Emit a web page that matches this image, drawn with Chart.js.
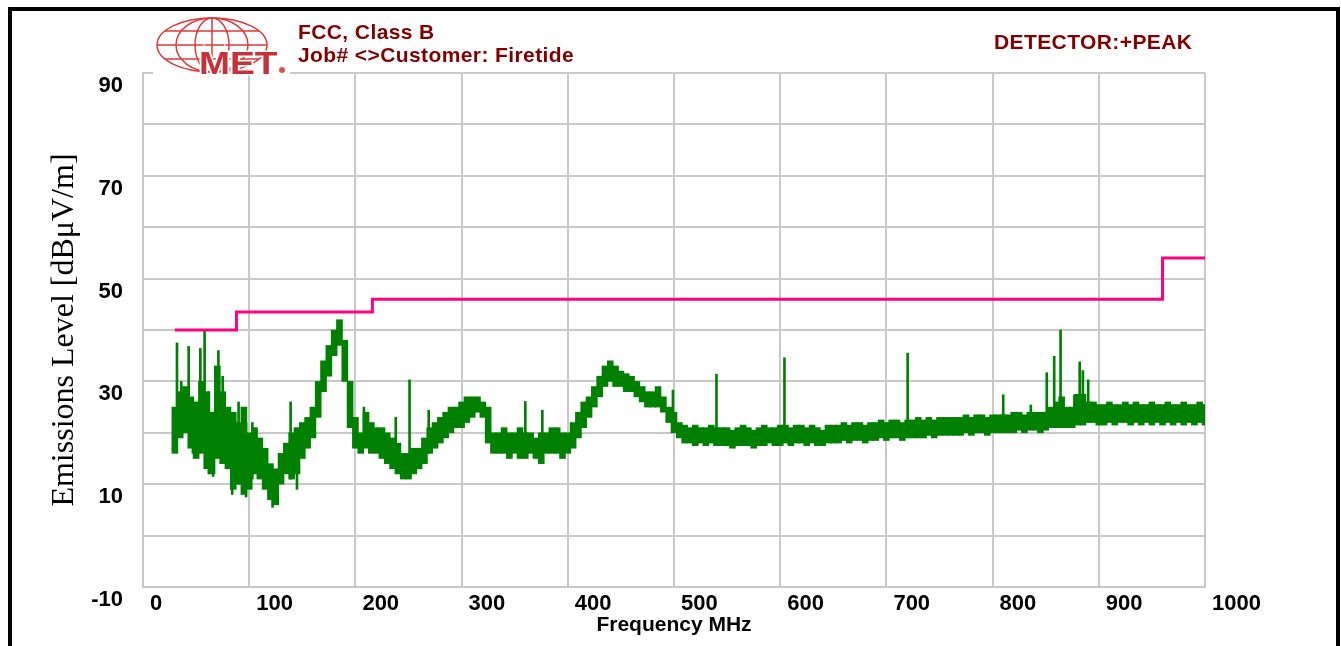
<!DOCTYPE html>
<html>
<head>
<meta charset="utf-8">
<script src="https://cdn.jsdelivr.net/npm/chart.js@4.4.1/dist/chart.umd.min.js"></script>
<style>
  html, body { margin: 0; padding: 0; background: #fff; }
  #wrap { position: relative; width: 1341px; height: 646px; overflow: hidden; background: #fff; }
  #frame { position: absolute; left: 8px; top: 7px; width: 1332px; height: 700px; border: 4px solid #000; box-sizing: border-box; }
  #plot { position: absolute; left: 0; top: 0; }
  .hdr { position: absolute; color: #800000; font: bold 21px "Liberation Sans", Arial, sans-serif; line-height: 21px; letter-spacing: 0.4px; white-space: nowrap; }
</style>
</head>
<body>
<div id="wrap">
  <div id="frame"></div>
  <canvas id="plot" width="1341" height="646"></canvas>
  <div class="hdr" style="left:298px;top:21px;">FCC, Class B</div>
  <div class="hdr" style="left:298px;top:44px;">Job# &lt;&gt;Customer: Firetide</div>
  <div class="hdr" style="left:994px;top:31px;">DETECTOR:+PEAK</div>
</div>
<script>
// FCC Class B limit (dBuV/m), stepped
const limitFreq = [30, 88, 216, 960, 1000];
const limitLevel = [40, 43.5, 46, 54, 54];

// peak trace, read as a min/max band per 5 MHz bin
const bandFreq = [
  30, 35, 40, 45, 50, 55, 60, 65, 70, 75,
  80, 85, 90, 95, 100, 105, 110, 115, 120, 125,
  130, 135, 140, 145, 150, 155, 160, 165, 170, 175,
  180, 185, 190, 195, 200, 205, 210, 215, 220, 225,
  230, 235, 240, 245, 250, 255, 260, 265, 270, 275,
  280, 285, 290, 295, 300, 305, 310, 315, 320, 325,
  330, 335, 340, 345, 350, 355, 360, 365, 370, 375,
  380, 385, 390, 395, 400, 405, 410, 415, 420, 425,
  430, 435, 440, 445, 450, 455, 460, 465, 470, 475,
  480, 485, 490, 495, 500, 505, 510, 515, 520, 525,
  530, 535, 540, 545, 550, 555, 560, 565, 570, 575,
  580, 585, 590, 595, 600, 605, 610, 615, 620, 625,
  630, 635, 640, 645, 650, 655, 660, 665, 670, 675,
  680, 685, 690, 695, 700, 705, 710, 715, 720, 725,
  730, 735, 740, 745, 750, 755, 760, 765, 770, 775,
  780, 785, 790, 795, 800, 805, 810, 815, 820, 825,
  830, 835, 840, 845, 850, 855, 860, 865, 870, 875,
  880, 885, 890, 895, 900, 905, 910, 915, 920, 925,
  930, 935, 940, 945, 950, 955, 960, 965, 970, 975,
  980, 985, 990, 995, 1000
];
const bandLow = [
  16, 19, 20, 17, 15, 16, 13, 12, 15, 14,
  13, 9, 10, 8, 9, 12, 11, 9, 7, 6,
  10, 12, 11, 12, 15, 17, 19, 23, 28, 31,
  35, 37, 30, 21, 17, 16, 17, 16, 16, 15,
  14, 13, 12, 11, 11, 12, 13, 14, 16, 17,
  18, 19, 20, 21, 21, 22, 23, 24, 23, 18,
  16, 16, 16, 15, 16, 15, 15, 16, 15, 14,
  16, 16, 16, 15, 16, 17, 19, 21, 23, 25,
  27, 29, 30, 29, 29, 28, 28, 27, 26, 25,
  25, 25, 24, 22, 20, 19, 18, 18, 17.5, 18,
  17.5, 18, 17.5, 17.5, 17.5, 17, 17.5, 17.5, 17.5, 17,
  17.5, 17.5, 18, 17.5, 17.5, 18, 17.5, 18, 18, 17.5,
  18, 17.5, 17.5, 18, 18, 18, 18.5, 18, 18.5, 18.5,
  18, 18.5, 18.5, 19, 18.5, 19, 19, 18.5, 19, 19,
  19, 19, 19.5, 19, 19.5, 19.5, 19.5, 19.5, 19.5, 20,
  19.5, 20, 20, 19.5, 20, 20, 20, 20, 20, 20.5,
  20, 20.5, 20.5, 20, 20.5, 21, 21, 21, 21, 21,
  21.5, 21.5, 22, 22, 21.5, 21.5, 22, 21.5, 22, 22,
  21.5, 22, 21.5, 22, 21.5, 22, 21.5, 22, 21.5, 22,
  21.5, 22, 21.5, 22, 21.5
];
const bandHigh = [
  25, 28, 29, 27, 26, 30, 28, 24, 33, 28,
  25, 24, 22, 25, 20, 21, 19, 17, 14, 13,
  16, 18, 20, 21, 22, 23, 25, 30, 34, 37,
  40, 42, 38, 30, 23, 20, 24, 22, 21, 21,
  20, 19, 18, 16, 16, 17, 17, 19, 21, 22,
  23, 24, 25, 25, 26, 27, 27, 27, 26, 25,
  20, 20, 21, 20, 20, 21, 20, 20, 19, 20,
  20, 21, 21, 20, 20, 22, 24, 26, 27, 29,
  31, 33, 34, 33, 32, 31.5, 31, 30, 29, 28,
  28, 29, 27, 25, 24, 22, 21.5, 21, 21.5, 21,
  21, 21.5, 21, 21, 21, 20.5, 21, 21.5, 21, 20.5,
  21, 21.5, 21, 21, 21.5, 21.5, 21, 21.5, 21.5, 21,
  21.5, 21, 20.5, 21.5, 21.5, 21.5, 22, 21.5, 22, 22,
  21.5, 22, 22, 22.5, 22, 22.5, 22.5, 22, 22.5, 22.5,
  23, 22.5, 23, 22.5, 23, 23, 23, 23, 23, 23.5,
  23, 23.5, 23.5, 23, 23.5, 23.5, 23.5, 23.5, 24, 24,
  23.5, 24, 24, 24, 24, 25, 26, 27, 25, 25,
  27.5, 27.5, 26, 26, 25.5, 25.5, 26, 25.5, 25.5, 26,
  25.5, 26, 25.5, 25.5, 26, 25.5, 25.5, 26, 25.5, 25.5,
  26, 25.5, 25.5, 26, 25.5
];

// narrow spikes above / below the band
const spikeFreq = [32, 36, 43, 47, 54, 58, 62, 66, 71, 75, 84, 90, 97, 103, 122, 139, 145, 208, 238, 251,
  269, 360, 376, 499, 540, 604, 720, 810, 836, 851, 858, 864, 877, 882, 885, 890];
const spikeLow = [20, 20, 20, 16, 18, 18, 12, 11.5, 16, 15, 8, 10, 7.5, 11, 5.5, 11, 9, 18, 14, 12,
  16, 17, 16, 22, 19, 19, 20, 21, 21, 21, 21, 21, 22, 22, 22, 22];
const spikeHigh = [37.5, 30, 36.8, 26, 36.4, 39.7, 28, 24, 36, 31, 22, 26, 22, 22, 12, 26, 20, 25, 23, 30.3,
  24.4, 26.1, 24.4, 28.3, 31.4, 34.6, 35.5, 27.4, 25.4, 31.7, 34.9, 40, 27.4, 33.8, 32.1, 30.3];

const yLabelValues = [90, 70, 50, 30, 10, -10];

const GREEN = '#008000';
const PINK = '#ff0080';
const GRID = '#c8c8c8';
const SANS = '"Liberation Sans", Arial, sans-serif';

// MET logo painted over the top left of the plot
const logoPlugin = {
  id: 'metLogo',
  afterDraw(chart) {
    const ctx = chart.ctx;
    ctx.save();
    ctx.fillStyle = '#fff';
    ctx.fillRect(153, 12, 137, 63);
    ctx.strokeStyle = '#dc3a3a';
    ctx.lineWidth = 1.5;
    const cx = 212, cy = 45, rx = 55, ry = 27;
    ctx.beginPath(); ctx.ellipse(cx, cy, rx, ry, 0, 0, Math.PI * 2); ctx.stroke();
    [36, 17].forEach(r => { ctx.beginPath(); ctx.ellipse(cx, cy, r, ry, 0, 0, Math.PI * 2); ctx.stroke(); });
    ctx.beginPath(); ctx.moveTo(cx, cy - ry); ctx.lineTo(cx, cy + ry); ctx.stroke();
    [-14, 0, 14].forEach(dy => {
      const hw = rx * Math.sqrt(1 - (dy * dy) / (ry * ry));
      ctx.beginPath(); ctx.moveTo(cx - hw, cy + dy); ctx.lineTo(cx + hw, cy + dy); ctx.stroke();
    });
    ctx.font = 'bold 31px ' + SANS;
    ctx.textBaseline = 'alphabetic';
    ctx.lineWidth = 3;
    ctx.strokeStyle = '#fff';
    ctx.save();
    ctx.translate(199, 74);
    ctx.scale(1.2, 1);
    ctx.strokeText('MET', 0, 0);
    ctx.fillStyle = '#c4323a';
    ctx.fillText('MET', 0, 0);
    ctx.restore();
    ctx.beginPath(); ctx.arc(282, 70, 3, 0, Math.PI * 2);
    ctx.fillStyle = '#e05050'; ctx.fill();
    ctx.restore();
  }
};

const ctx = document.getElementById('plot').getContext('2d');
new Chart(ctx, {
  type: 'bar',
  data: {
    datasets: [
      {
        type: 'line', label: 'Limit', order: 0,
        data: limitFreq.map((f, i) => ({ x: f, y: limitLevel[i] })),
        stepped: 'before', borderColor: PINK, borderWidth: 3, pointRadius: 0, fill: false
      },
      {
        label: 'Peak', order: 1, stack: 'trace',
        data: bandFreq.map((f, i) => ({ x: f, y: [bandLow[i], bandHigh[i]] })),
        backgroundColor: GREEN, borderWidth: 0, barThickness: 6
      },
      {
        label: 'Spikes', order: 1, stack: 'trace',
        data: spikeFreq.map((f, i) => ({ x: f, y: [spikeLow[i], spikeHigh[i]] })),
        backgroundColor: GREEN, borderWidth: 0, barThickness: 2
      }
    ]
  },
  options: {
    responsive: false,
    animation: false,
    layout: { padding: { top: 73, right: 136, left: 0, bottom: 0 } },
    plugins: { legend: { display: false }, tooltip: { enabled: false } },
    scales: {
      x: {
        type: 'linear', min: 0, max: 1000, offset: false,
        grid: { color: GRID, lineWidth: 2, drawTicks: false, offset: false },
        border: { color: GRID, width: 2 },
        ticks: {
          stepSize: 100, align: 'start', labelOffset: 7, padding: 4,
          autoSkip: false, maxRotation: 0, color: '#000',
          font: { family: SANS, size: 22, weight: 'bold' },
          callback: v => String(v)
        },
        title: {
          display: true, text: 'Frequency MHz', color: '#000',
          font: { family: SANS, size: 21, weight: 'bold' }, padding: { top: 0, bottom: 8 }
        },
        afterFit(s) { s.height = 59; }
      },
      y: {
        min: -10, max: 90, stacked: false,
        grid: { color: GRID, lineWidth: 2, drawTicks: false },
        border: { color: GRID, width: 2 },
        ticks: {
          stepSize: 10, padding: 20, labelOffset: 13, color: '#000',
          font: { family: SANS, size: 22, weight: 'bold' },
          callback: v => yLabelValues.includes(v) ? String(v) : ''
        },
        title: {
          display: true, text: 'Emissions Level [dBμV/m]', color: '#000',
          font: { family: '"Liberation Serif", "Times New Roman", serif', size: 32, weight: 'normal' },
          padding: { top: 45, bottom: 0 }
        },
        afterFit(s) { s.width = 143; }
      }
    }
  },
  plugins: [logoPlugin]
});
</script>
</body>
</html>
